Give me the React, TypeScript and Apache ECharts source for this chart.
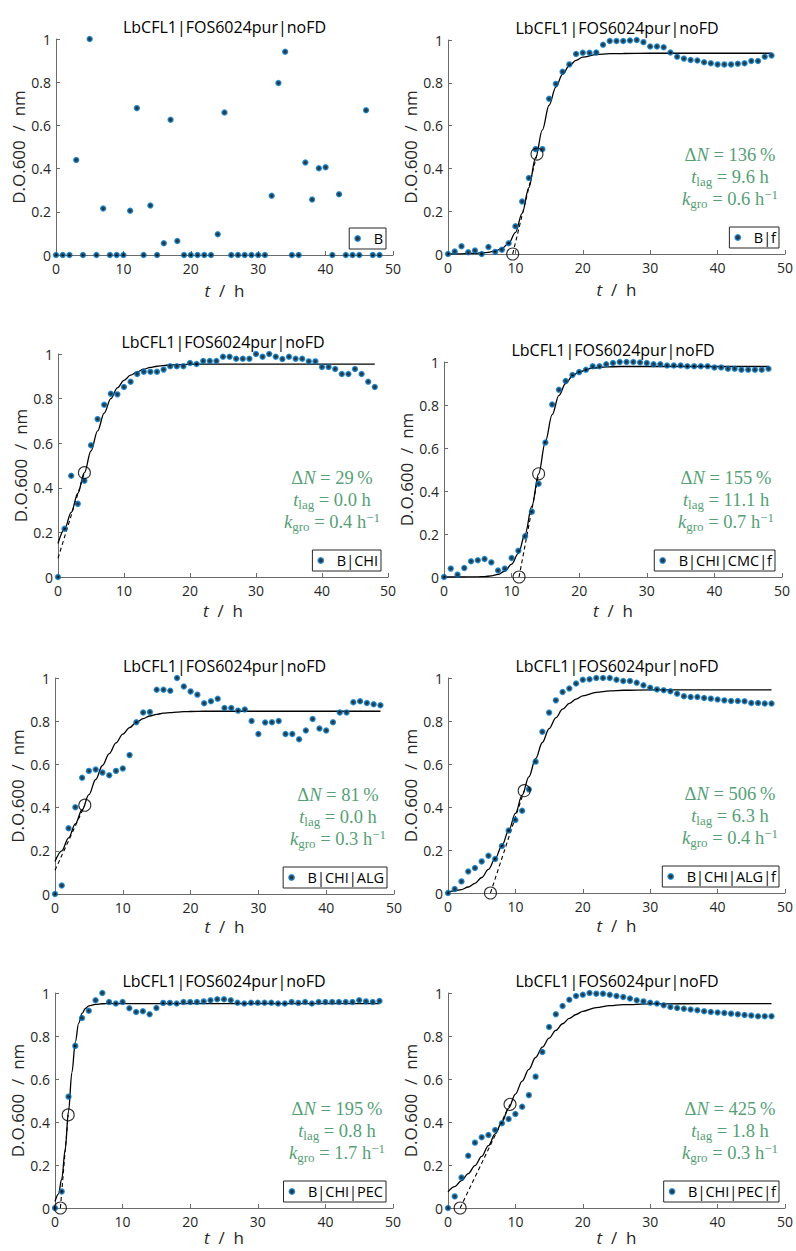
import React, { useEffect, useRef } from "react";
import * as echarts from "echarts";

// ---------- data ----------
const hours = [0,1,2,3,4,5,6,7,8,9,10,11,12,13,14,15,16,17,18,19,20,21,22,23,24,25,26,27,28,29,30,31,32,33,34,35,36,37,38,39,40,41,42,43,44,45,46,47,48];

const valB = [0,0,0,0.44,0,1.0,0,0.215,0,0,0,0.205,0.68,0,0.229,0,0.054,0.626,0.065,0,0,0,0,0,0.096,0.66,0,0,0,0,0,0,0.274,0.796,0.941,0,0,0.428,0.257,0.402,0.406,0,0.281,0,0,0,0.67,0,0];
const valBf = [0,0.012,0.036,0.008,0.016,0,0.033,0.01,0.02,0.05,0.13,0.245,0.355,0.49,0.49,0.725,0.795,0.852,0.886,0.935,0.94,0.94,0.942,0.978,0.995,0.995,0.995,0.998,1.0,0.99,0.97,0.97,0.966,0.942,0.922,0.913,0.907,0.904,0.896,0.891,0.886,0.886,0.886,0.889,0.891,0.902,0.902,0.922,0.928];
const valBCHI = [0,0.216,0.454,0.328,0.432,0.591,0.708,0.772,0.822,0.819,0.852,0.876,0.91,0.92,0.92,0.92,0.93,0.945,0.945,0.945,0.96,0.955,0.969,0.969,0.969,0.988,0.988,0.979,0.979,0.979,1.0,0.988,1.0,0.988,0.978,0.988,0.979,0.979,0.967,0.967,0.942,0.942,0.933,0.91,0.91,0.933,0.91,0.876,0.852];
const valCMCf = [0,0.039,0.011,0.042,0.073,0.078,0.084,0.068,0.03,0.039,0.088,0.122,0.189,0.304,0.434,0.626,0.802,0.871,0.912,0.94,0.953,0.964,0.98,0.98,0.99,0.995,1.0,1.0,1.0,0.998,0.995,0.99,0.99,0.984,0.984,0.984,0.98,0.98,0.98,0.98,0.974,0.974,0.969,0.969,0.964,0.964,0.964,0.964,0.969];
const valALG = [0,0.039,0.304,0.402,0.538,0.57,0.576,0.562,0.55,0.57,0.581,0.643,0.795,0.84,0.843,0.946,0.946,0.941,1.0,0.961,0.938,0.923,0.883,0.892,0.904,0.861,0.861,0.849,0.854,0.801,0.741,0.794,0.795,0.801,0.741,0.741,0.716,0.757,0.81,0.766,0.757,0.795,0.84,0.84,0.888,0.892,0.884,0.878,0.874];
const valALGf = [0,0.019,0.054,0.1,0.116,0.147,0.173,0.158,0.219,0.291,0.34,0.383,0.482,0.611,0.75,0.839,0.896,0.935,0.951,0.974,0.992,0.994,1.0,1.0,1.0,0.992,0.986,0.986,0.978,0.966,0.955,0.947,0.943,0.938,0.927,0.915,0.912,0.912,0.907,0.904,0.9,0.896,0.893,0.893,0.892,0.884,0.884,0.881,0.881];
const valPEC = [0,0.077,0.518,0.754,0.884,0.917,0.966,1.0,0.958,0.951,0.958,0.929,0.912,0.915,0.901,0.93,0.954,0.954,0.951,0.958,0.958,0.958,0.961,0.966,0.971,0.971,0.966,0.955,0.951,0.955,0.955,0.955,0.955,0.951,0.951,0.958,0.954,0.958,0.951,0.958,0.958,0.958,0.958,0.958,0.958,0.966,0.961,0.958,0.963];
const valPECf = [0,0.054,0.142,0.243,0.304,0.329,0.34,0.363,0.394,0.414,0.437,0.471,0.525,0.611,0.726,0.842,0.901,0.94,0.969,0.986,0.992,1.0,0.997,0.997,0.992,0.986,0.981,0.974,0.966,0.961,0.955,0.951,0.943,0.935,0.93,0.927,0.923,0.92,0.915,0.912,0.909,0.907,0.904,0.901,0.898,0.895,0.892,0.892,0.892];

// fitted curves
const fitT = [0,1,2,3,4,5,6,7,8,9,10,11,12,13,14,15,16,17,18,19,20,22,24,26,30,35,40,48];
const fitBf = [0,0.001,0.001,0.002,0.003,0.005,0.008,0.014,0.026,0.05,0.1,0.19,0.31,0.45,0.58,0.695,0.78,0.84,0.88,0.905,0.92,0.932,0.936,0.937,0.938,0.938,0.938,0.938];
const fitBCHI = [0.15,0.215,0.29,0.375,0.468,0.565,0.655,0.735,0.8,0.848,0.882,0.905,0.92,0.932,0.94,0.945,0.948,0.951,0.952,0.953,0.954,0.955,0.955,0.955,0.955,0.955,0.955,0.955];
const fitCMCf = [0,0,0,0,0.001,0.001,0.002,0.005,0.012,0.028,0.06,0.11,0.2,0.33,0.48,0.63,0.755,0.845,0.9,0.935,0.955,0.972,0.977,0.979,0.979,0.979,0.979,0.979];
const fitALG = [0.15,0.2,0.26,0.325,0.39,0.46,0.53,0.595,0.65,0.7,0.74,0.77,0.795,0.812,0.824,0.832,0.837,0.84,0.842,0.844,0.845,0.846,0.846,0.846,0.846,0.846,0.846,0.846];
const fitALGf = [0.005,0.01,0.016,0.028,0.045,0.072,0.11,0.16,0.22,0.29,0.37,0.455,0.54,0.625,0.7,0.765,0.815,0.855,0.882,0.902,0.917,0.933,0.94,0.943,0.945,0.945,0.945,0.945];
const fitPECf = [0.075,0.099,0.127,0.16,0.197,0.24,0.29,0.345,0.4,0.465,0.53,0.59,0.645,0.7,0.748,0.79,0.826,0.857,0.882,0.9,0.915,0.932,0.941,0.946,0.949,0.95,0.951,0.951];
const fitT7 = [0,0.5,1,1.5,2,2.5,3,3.5,4,4.5,5,6,7,8,10,48];
const fitPEC = [0.03,0.065,0.135,0.27,0.45,0.63,0.77,0.86,0.905,0.928,0.94,0.947,0.95,0.951,0.951,0.951];

// lag point / inflection point (circles + tangent)
const lagPts = [null,[9.6,0],[0,0.084],[11.1,0],[0,0.11],[6.3,0],[0.8,0],[1.8,0]];
const lagCircle = [false,true,false,true,false,true,true,true];
const inflPts = [null,[13.2,0.467],[4.0,0.468],[14.0,0.48],[4.4,0.411],[11.3,0.476],[1.95,0.433],[9.2,0.482]];

const names = ["B","B|f","B|CHI","B|CHI|CMC|f","B|CHI|ALG","B|CHI|ALG|f","B|CHI|PEC","B|CHI|PEC|f"];
const values = [valB,valBf,valBCHI,valCMCf,valALG,valALGf,valPEC,valPECf];
const fitXs = [null,fitT,fitT,fitT,fitT,fitT,fitT7,fitT];
const fitYs = [null,fitBf,fitBCHI,fitCMCf,fitALG,fitALGf,fitPEC,fitPECf];
const deltaN = [null,"136","29","155","81","506","195","425"];
const tLag = [null,"9.6","0.0","11.1","0.0","6.3","0.8","1.8"];
const kGro = [null,"0.6","0.4","0.7","0.3","0.4","1.7","0.3"];
const titleText = "LbCFL1|FOS6024pur|noFD";
const yTicks = [0, 0.2, 0.4, 0.6, 0.8, 1];
const xTicks = [0, 10, 20, 30, 40, 50];

// ---------- layout ----------
const W = 796, H = 1251;
const GRIDS = [
  { left: 56, top: 39, width: 337, height: 216 },
  { left: 448, top: 40, width: 338, height: 214 },
  { left: 58, top: 354, width: 330, height: 223 },
  { left: 444, top: 362, width: 338, height: 215 },
  { left: 55, top: 678, width: 339, height: 216 },
  { left: 448, top: 678, width: 338, height: 215 },
  { left: 55, top: 993, width: 338, height: 215 },
  { left: 448, top: 993, width: 338, height: 215 },
];
const X_NAME_GAP = [27, 27, 25, 25, 24, 24, 18, 18];

const SANS = "'Open Sans', 'Noto Sans', sans-serif";
const SERIF = "'Liberation Serif', 'DejaVu Serif', serif";
const AX = "#6b6b6b";
const TXT = "#262626";
const GREEN = "#56a076";
const BLUE = "#0072BD";
const AF = 18.5; // annotation font size
const SF = 13;   // sub/superscript size

function buildOption() {
  const grid: any[] = [];
  const xAxis: any[] = [];
  const yAxis: any[] = [];
  const series: any[] = [];
  const title: any[] = [];
  const legend: any[] = [];
  const graphic: any[] = [];

  GRIDS.forEach((g, i) => {
    grid.push({ left: g.left, top: g.top, width: g.width, height: g.height, containLabel: false });
    xAxis.push({
      type: "value", gridIndex: i, min: xTicks[0], max: xTicks[xTicks.length - 1], interval: 10,
      name: "{i|t}  /  h", nameLocation: "middle", nameGap: X_NAME_GAP[i],
      nameTextStyle: { fontSize: 17, fontFamily: SANS, color: TXT, rich: { i: { fontStyle: "italic", fontSize: 17, fontFamily: SANS, color: TXT } } },
      axisLine: { show: true, onZero: false, lineStyle: { color: AX, width: 1 } },
      axisTick: { show: true, inside: true, length: 4, lineStyle: { color: AX } },
      axisLabel: { margin: 6, fontSize: 14, fontFamily: SANS, color: TXT },
      splitLine: { show: false },
    });
    yAxis.push({
      type: "value", gridIndex: i, min: yTicks[0], max: yTicks[yTicks.length - 1], interval: 0.2,
      name: "D.O.600  /  nm", nameLocation: "middle", nameGap: 27,
      nameTextStyle: { fontSize: 17, fontFamily: SANS, color: TXT },
      axisLine: { show: true, onZero: false, lineStyle: { color: AX, width: 1 } },
      axisTick: { show: true, inside: true, length: 4, lineStyle: { color: AX } },
      axisLabel: { margin: 5, fontSize: 14, fontFamily: SANS, color: TXT },
      splitLine: { show: false },
    });
    title.push({
      text: titleText, left: g.left + g.width / 2, top: g.top - 21, textAlign: "center", padding: 0,
      textStyle: { fontSize: 16, fontWeight: "normal", fontFamily: SANS, color: "#000", lineHeight: 18 },
    });

    if (fitXs[i]) {
      const fx = fitXs[i] as number[];
      const fy = fitYs[i] as number[];
      series.push({
        type: "line", xAxisIndex: i, yAxisIndex: i, smooth: 0.35, smoothMonotone: "x",
        showSymbol: false, symbol: "none", silent: true, z: 2,
        lineStyle: { color: "#000", width: 1.3 },
        data: fx.map((t, k) => [t, fy[k]]),
      });
      series.push({
        type: "line", xAxisIndex: i, yAxisIndex: i, showSymbol: false, symbol: "none", silent: true, z: 2,
        lineStyle: { color: "#000", width: 1.1, type: [4, 3] },
        data: [lagPts[i], inflPts[i]],
      });
      const circ: any[] = [inflPts[i]];
      if (lagCircle[i]) circ.push(lagPts[i]);
      series.push({
        type: "scatter", xAxisIndex: i, yAxisIndex: i, symbol: "circle", symbolSize: 12, silent: true, z: 4, clip: false,
        itemStyle: { color: "rgba(0,0,0,0)", borderColor: "#000", borderWidth: 1.1 },
        data: circ,
      });
      const pr = g.left + g.width - 56;
      const pt = g.top + g.height - 110;
      graphic.push({
        type: "text", x: pr, y: pt, silent: true, z: 10,
        style: {
          text: `{d|Δ}{v|N}{n| = ${deltaN[i]}\u2009%}\n{v|t}{s|lag}{n| = ${tLag[i]} h}\n{v|k}{s|gro}{n| = ${kGro[i]} h}{p|−1}`,
          align: "center", verticalAlign: "top", textAlign: "center", textVerticalAlign: "top",
          fill: GREEN, fontSize: AF, fontFamily: SERIF, lineHeight: 22,
          rich: {
            n: { fontSize: AF, fontFamily: SERIF, fill: GREEN, color: GREEN, lineHeight: 22 },
            d: { fontSize: AF, fontFamily: SERIF, fill: GREEN, color: GREEN, lineHeight: 22 },
            v: { fontSize: AF, fontFamily: SERIF, fontStyle: "italic", fill: GREEN, color: GREEN, lineHeight: 22 },
            s: { fontSize: SF, fontFamily: SERIF, fill: GREEN, color: GREEN, lineHeight: 12, verticalAlign: "bottom" },
            p: { fontSize: SF, fontFamily: SERIF, fill: GREEN, color: GREEN, lineHeight: 14, verticalAlign: "top" },
          },
        },
      });
    }

    series.push({
      name: names[i], type: "scatter", xAxisIndex: i, yAxisIndex: i, symbol: "circle", symbolSize: 4.6, z: 3, clip: false,
      itemStyle: { color: "#000", borderColor: BLUE, borderWidth: 1.8 },
      data: hours.map((t, k) => [t, values[i][k]]),
    });

    legend.push({
      data: [names[i]], orient: "horizontal",
      right: W - (g.left + g.width) + 7, bottom: H - (g.top + g.height) + 6,
      backgroundColor: "#fff", borderColor: "#262626", borderWidth: 1, borderRadius: 0,
      padding: [3, 3, 3, 5], itemWidth: 22, itemHeight: 5, selectedMode: false,
      icon: "circle",
      itemStyle: { color: "#000", borderColor: BLUE, borderWidth: 1.8 },
      textStyle: { fontSize: 14.5, fontFamily: SANS, color: "#000" },
    });
  });

  return { animation: false, backgroundColor: "#fff", grid, xAxis, yAxis, series, title, legend, graphic };
}

export default function App() {
  const ref = useRef<HTMLDivElement>(null);
  useEffect(() => {
    document.body.style.margin = "0";
    const chart = echarts.init(ref.current as HTMLDivElement, undefined, { renderer: "svg" });
    chart.setOption(buildOption() as any);
    return () => chart.dispose();
  }, []);
  return <div ref={ref} style={{ width: W, height: H }} />;
}
